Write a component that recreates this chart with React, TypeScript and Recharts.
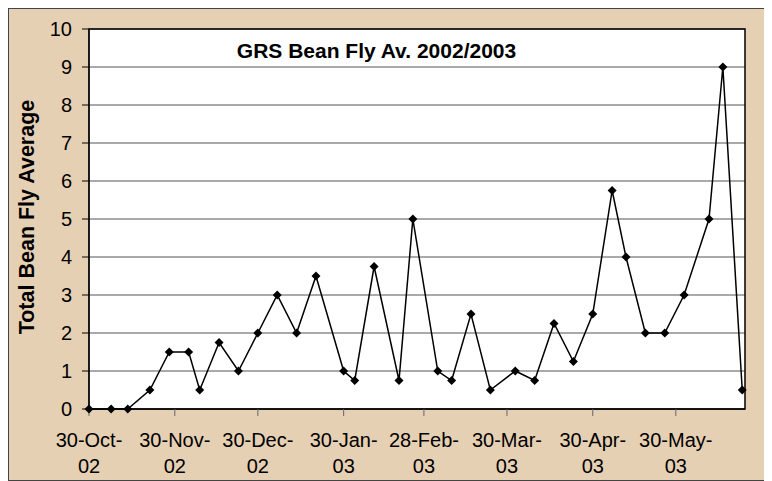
import React from 'react'
import { LineChart, Line, XAxis, YAxis, CartesianGrid, ReferenceArea, Label } from 'recharts'

const sampleDates = [
  '2002-10-30', '2002-11-07', '2002-11-13', '2002-11-21', '2002-11-28',
  '2002-12-05', '2002-12-09', '2002-12-16', '2002-12-23', '2002-12-30',
  '2003-01-06', '2003-01-13', '2003-01-20', '2003-01-30',
  '2003-02-03', '2003-02-10', '2003-02-19', '2003-02-24',
  '2003-03-05', '2003-03-10', '2003-03-17', '2003-03-24',
  '2003-04-02', '2003-04-09', '2003-04-16', '2003-04-23', '2003-04-30',
  '2003-05-07', '2003-05-12', '2003-05-19', '2003-05-26',
  '2003-06-02', '2003-06-11', '2003-06-16', '2003-06-23',
]
const flyAverages = [
  0, 0, 0, 0.5, 1.5,
  1.5, 0.5, 1.75, 1, 2,
  3, 2, 3.5, 1,
  0.75, 3.75, 0.75, 5,
  1, 0.75, 2.5, 0.5,
  1, 0.75, 2.25, 1.25, 2.5,
  5.75, 4, 2, 2,
  3, 5, 9, 0.5,
]
const tickDates = ['2002-10-30', '2002-11-30', '2002-12-30', '2003-01-30', '2003-02-28', '2003-03-30', '2003-04-30', '2003-05-30']
const tickLabels = ['30-Oct-02', '30-Nov-02', '30-Dec-02', '30-Jan-03', '28-Feb-03', '30-Mar-03', '30-Apr-03', '30-May-03']
const axisStart = '2002-10-30'
const axisEnd = '2003-06-24'
const yTicks = [0, 1, 2, 3, 4, 5, 6, 7, 8, 9, 10]

const FONT = '"Liberation Sans", Arial, sans-serif'
const dayNum = (s: string) => {
  const [y, m, d] = s.split('-').map(Number)
  return Date.UTC(y, m - 1, d) / 86400000
}

const data = sampleDates.map((d, i) => ({ t: dayNum(d), v: flyAverages[i] }))
const ticks = tickDates.map(dayNum)

function DateTick(props: any) {
  const { x, y, payload } = props
  const idx = ticks.indexOf(payload.value)
  const label = idx >= 0 ? tickLabels[idx] : ''
  const cut = label.lastIndexOf('-') + 1
  return (
    <text x={x} textAnchor="middle" fontFamily={FONT} fontSize={20} fill="#000">
      <tspan x={x} y={y + 29}>{label.slice(0, cut)}</tspan>
      <tspan x={x} y={y + 55}>{label.slice(cut)}</tspan>
    </text>
  )
}

function Diamond(props: any) {
  const { cx, cy } = props
  if (cx == null || cy == null) return null
  const r = 4.5
  return <path d={`M${cx},${cy - r}L${cx + r},${cy}L${cx},${cy + r}L${cx - r},${cy}Z`} fill="#000" />
}

export default function App() {
  return (
    <div style={{ position: 'relative', width: 764, height: 473, boxSizing: 'border-box', border: '1px solid #444', background: '#E6D0B4' }}>
      <LineChart width={762} height={471} data={data} margin={{ top: 20, right: 26, bottom: 0, left: 0 }}>
        <CartesianGrid vertical={false} stroke="#555" fill="#fff" fillOpacity={1} />
        <XAxis
          dataKey="t"
          type="number"
          domain={[dayNum(axisStart), dayNum(axisEnd)]}
          ticks={ticks}
          interval={0}
          height={71}
          tickSize={7}
          tickMargin={2}
          stroke="#000"
          tickLine={{ stroke: '#666' }}
          tick={<DateTick />}
        />
        <YAxis
          domain={[0, 10]}
          ticks={yTicks}
          interval={0}
          width={80}
          tickSize={7}
          tickMargin={10}
          stroke="#000"
          tick={{ fontFamily: FONT, fontSize: 20, fill: '#000' }}
        >
          <Label
            content={(p: any) => {
              const vb = p.viewBox
              const x = vb.x + 18
              const y = vb.y + vb.height / 2 - 2
              return (
                <text x={x} y={y} transform={`rotate(-90, ${x}, ${y})`} textAnchor="middle" dominantBaseline="central"
                  fontFamily={FONT} fontSize={21.5} fontWeight="bold" fill="#000">
                  Total Bean Fly Average
                </text>
              )
            }}
          />
        </YAxis>
        <ReferenceArea x1={dayNum(axisStart)} x2={dayNum(axisEnd)} y1={0} y2={10} fill="none" stroke="#000" strokeWidth={1.5} ifOverflow="visible" />
        <Line type="linear" dataKey="v" stroke="#000" strokeWidth={1.5} dot={<Diamond />} activeDot={false} isAnimationActive={false} />
      </LineChart>
      <div style={{ position: 'absolute', left: 0, top: 30, width: 735, textAlign: 'center', fontFamily: FONT, fontSize: 21, fontWeight: 'bold', lineHeight: '24px', pointerEvents: 'none' }}>
        GRS Bean Fly Av. 2002/2003
      </div>
    </div>
  )
}
